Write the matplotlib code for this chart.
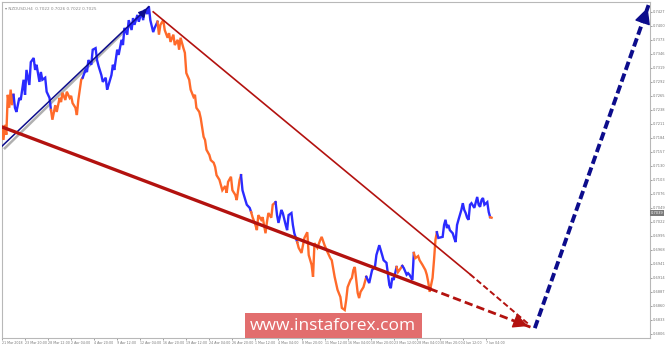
import matplotlib.pyplot as plt
from matplotlib.patches import Rectangle
import numpy as np

# H4 bars (index) and closes
bars = [0, 1, 2, 3, 4, 5, 6, 7,
        8, 9, 10, 12, 13, 15, 16, 17, 19, 20, 22, 23, 24, 26, 27, 28, 30, 31, 33,
        34, 35, 37, 38, 40, 41, 42, 44, 45, 47, 48, 49, 51, 52, 53, 55,
        56, 58, 59, 60, 62, 63, 65, 66, 67, 69, 70, 72, 73, 74, 76, 77, 78, 80, 81, 83, 84, 85,
        87, 88, 90, 91, 92, 94, 95, 97, 98, 99, 101, 102, 103, 105, 106,
        108, 109, 110, 112, 113, 115, 116, 117, 119, 120, 122, 123, 124, 126, 127, 128, 130, 131,
        133, 134, 135, 137, 138, 140, 141, 142, 144, 145, 147, 148, 149, 151, 152, 153, 155, 156,
        157, 159, 160, 162, 163, 165,
        166, 167, 169, 170, 172,
        173, 174, 176, 177, 178, 180, 181, 183, 184, 185, 187, 188,
        190, 191, 192, 194, 195, 197, 198, 199, 201, 202, 203,
        205, 206, 208, 209, 210, 212, 213, 215, 216, 217, 219, 221, 222, 224, 226, 228, 229, 231,
        233, 235, 236, 238, 239, 240, 242, 243, 244, 245, 247, 248, 249, 251, 252,
        253, 255, 257, 259, 260, 262, 264, 265, 267, 269, 270, 271, 272,
        274, 275, 276,
        278, 279, 281, 282, 283, 285,
        286, 287, 289, 290, 292, 294, 295, 296, 297, 299, 300, 301,
        302, 303, 306, 307, 308, 309, 310, 311, 313, 314, 315, 316, 317, 319, 320, 321, 322, 323,
        324, 325, 326, 328, 330, 331, 332, 333, 334, 335, 337, 338,
        339, 340]
closes = [0.7203, 0.7180, 0.7209, 0.7190, 0.7267, 0.7242, 0.7277, 0.7247,
          0.7267, 0.7242, 0.7234, 0.7261, 0.7257, 0.7296, 0.7267, 0.7315, 0.7286, 0.7330, 0.7338,
          0.7315, 0.7325, 0.7292, 0.7311, 0.7296, 0.7300, 0.7273, 0.7261,
          0.7238, 0.7219, 0.7247, 0.7234, 0.7261, 0.7253, 0.7271, 0.7257, 0.7273, 0.7261, 0.7265,
          0.7251, 0.7242, 0.7228, 0.7257, 0.7296,
          0.7300, 0.7315, 0.7311, 0.7334, 0.7325, 0.7354, 0.7357, 0.7334, 0.7323, 0.7305, 0.7292,
          0.7300, 0.7277, 0.7286, 0.7305, 0.7325, 0.7315, 0.7354, 0.7344, 0.7373, 0.7363, 0.7396,
          0.7383, 0.7411, 0.7392, 0.7415, 0.7402, 0.7421, 0.7408, 0.7427, 0.7411, 0.7431, 0.7423,
          0.7437, 0.7411, 0.7388, 0.7396,
          0.7408, 0.7383, 0.7402, 0.7411, 0.7392, 0.7377, 0.7386, 0.7369, 0.7383, 0.7363, 0.7373,
          0.7354, 0.7377, 0.7357, 0.7348, 0.7309, 0.7296, 0.7277,
          0.7263, 0.7267, 0.7242, 0.7234, 0.7222, 0.7186, 0.7180, 0.7161, 0.7151, 0.7141, 0.7136,
          0.7128, 0.7112, 0.7103, 0.7093, 0.7083, 0.7091, 0.7078,
          0.7099, 0.7109, 0.7083, 0.7074, 0.7064, 0.7103,
          0.7112, 0.7083, 0.7064, 0.7055, 0.7049,
          0.7041, 0.7031, 0.7016, 0.7006, 0.7035, 0.7026, 0.7031, 0.7000, 0.7022, 0.7039, 0.7030,
          0.7055,
          0.7060, 0.7035, 0.7020, 0.7045, 0.7039, 0.7016, 0.7006, 0.7035, 0.7039, 0.7016, 0.7000,
          0.6983, 0.6972, 0.6962, 0.6977, 0.6991, 0.7002, 0.6958, 0.6939, 0.6916, 0.6981, 0.6972,
          0.6987, 0.6993, 0.6977, 0.6964, 0.6952, 0.6948, 0.6916,
          0.6891, 0.6877, 0.6856, 0.6852, 0.6871, 0.6896, 0.6910, 0.6914, 0.6929, 0.6935, 0.6885,
          0.6875, 0.6887, 0.6896, 0.6906,
          0.6916, 0.6904, 0.6929, 0.6935, 0.6958, 0.6977, 0.6958, 0.6948, 0.6943, 0.6900, 0.6894,
          0.6914, 0.6910,
          0.6935, 0.6925, 0.6929,
          0.6937, 0.6933, 0.6920, 0.6923, 0.6920, 0.6910,
          0.6962, 0.6952, 0.6956, 0.6948, 0.6939, 0.6929, 0.6920, 0.6906, 0.6887, 0.6914, 0.6948,
          0.6987,
          0.7002, 0.6991, 0.6993, 0.7016, 0.7026, 0.7010, 0.7016, 0.7006, 0.7000, 0.6991, 0.6983,
          0.7016, 0.7026, 0.7045, 0.7058, 0.7045, 0.7039, 0.7030,
          0.7026, 0.7055, 0.7058, 0.7049, 0.7070, 0.7055, 0.7051, 0.7064, 0.7068, 0.7055, 0.7060,
          0.7041,
          0.7031, 0.7030]

# wave colouring: bar where each wave starts, and whether it is an up wave
wave_starts = [0, 8, 34, 56, 108, 166, 173, 190, 205, 253, 274, 278, 286, 302, 339]
wave_up = [False, True, False, True, False, True, False, True, False, True, False, True,
           False, True, False]

x_labels = ['21 Mar 2018', '23 Mar 20:00', '28 Mar 12:00', '2 Apr 04:00', '4 Apr 20:00',
            '9 Apr 12:00', '12 Apr 04:00', '16 Apr 20:00', '19 Apr 12:00', '24 Apr 04:00',
            '26 Apr 20:00', '1 May 12:00', '4 May 04:00', '8 May 20:00', '11 May 12:00',
            '16 May 04:00', '18 May 20:00', '23 May 12:00', '28 May 04:00', '30 May 20:00',
            '4 Jun 12:00', '7 Jun 04:00']
y_ticks = [round(0.6806 + 0.0027 * k, 4) for k in range(24)]

# analysis lines: (bar, price) end points
up_channel = [(0, 0.7168), (102, 0.7437)]
lower_line = [(0, 0.7205), (297, 0.6893)]
lower_proj = [(297, 0.6893), (367, 0.6819)]
upper_line = [(105, 0.7427), (325, 0.6921)]
upper_proj = [(325, 0.6921), (366, 0.6824)]
target_proj = [(370, 0.6817), (449, 0.7440)]

BLUE = '#2b2bff'
ORANGE = '#ff6a2a'
RED = '#b3120f'
NAVY = '#0c0c8c'

fig = plt.figure(figsize=(6.65, 3.44), dpi=100)
ax = fig.add_axes([2 / 665, 1 - 338 / 344, 648 / 665, 336 / 344])
ax.set_facecolor('white')

bars_a = np.array(bars)
closes_a = np.array(closes)
ends = wave_starts[1:] + [bars[-1] + 1]
for start, end, up in zip(wave_starts, ends, wave_up):
    m = (bars_a >= start) & (bars_a <= end)
    ax.plot(bars_a[m], closes_a[m], color=BLUE if up else ORANGE, lw=1.7,
            solid_joinstyle='miter', zorder=3)

# channel line with its grey shadow
(xa, ya), (xb, yb) = up_channel
ax.plot([xa + 2, xb - 1], [ya - 0.0004, yb - 0.0004], color='#b0b0b0', lw=1.8, zorder=2)
ax.plot([xa, xb], [ya, yb], color=NAVY, lw=1.1, zorder=4)
ax.annotate('', xy=(xb, yb), xytext=(xb - 4, yb - 0.0012),
            arrowprops=dict(arrowstyle='-|>,head_length=0.5,head_width=0.25', color=NAVY, lw=1),
            zorder=4)

ax.plot(*zip(*lower_line), color=RED, lw=2.4, zorder=4)
ax.plot(*zip(*lower_proj), color=RED, lw=2, ls=(0, (3, 1.5)), zorder=4)
ax.plot(*zip(*upper_line), color=RED, lw=1.2, zorder=4)
ax.plot(*zip(*upper_proj), color=RED, lw=1.4, ls=(0, (3, 1.5)), zorder=4)
tip = lower_proj[1]
ax.annotate('', xy=tip, xytext=(tip[0] - 6, tip[1] + 0.00065),
            arrowprops=dict(arrowstyle='-|>,head_length=0.9,head_width=0.45', color=RED, lw=1),
            zorder=5)

ax.plot(*zip(*target_proj), color=NAVY, lw=2.8, ls=(0, (2.2, 1)), zorder=4)
tip = target_proj[1]
ax.annotate('', xy=tip, xytext=(tip[0] - 2, tip[1] - 0.0016),
            arrowprops=dict(arrowstyle='-|>,head_length=1.0,head_width=0.5', color=NAVY, lw=1),
            zorder=5)

ax.set_xlim(0, 450)
ax.set_ylim(0.6798, 0.7446)

ax.yaxis.tick_right()
ax.set_yticks(y_ticks)
ax.set_yticklabels([f'{v:.4f}' for v in y_ticks])
ax.set_xticks(np.arange(len(x_labels)) * 16)
ax.set_xticklabels(x_labels)
for lbl in ax.get_xticklabels():
    lbl.set_horizontalalignment('left')
ax.tick_params(axis='y', labelsize=2.6, colors='#777777', length=1.5, width=0.5, pad=0.8)
ax.tick_params(axis='x', labelsize=2.3, colors='#777777', length=1.5, width=0.5, pad=0.8)
for sp in ax.spines.values():
    sp.set_color('#b8b8b8')
    sp.set_linewidth(0.8)

# current price marker
ax.text(1.001, 0.7039, '0.7039', transform=ax.get_yaxis_transform(), fontsize=2.6,
        color='white', va='center', ha='left',
        bbox=dict(boxstyle='square,pad=0.15', fc='#7a7a7a', ec='none'))

ax.text(0.005, 0.985, '\u25be NZDUSD,H4  0.7022 0.7026 0.7022 0.7025', transform=ax.transAxes,
        fontsize=3.0, color='#888888', va='top', ha='left')

# watermark
fig.patches.append(Rectangle((245 / 665, 1 - 338 / 344), 177 / 665, 25 / 344,
                             transform=fig.transFigure, fc='#dd5555', alpha=0.85,
                             ec='none', zorder=10))
fig.text(333 / 665, 1 - 326 / 344, 'www.instaforex.com', color='white', fontsize=12.5,
         ha='center', va='center', family='Open Sans', zorder=11)

plt.savefig('out.png', dpi=100)
